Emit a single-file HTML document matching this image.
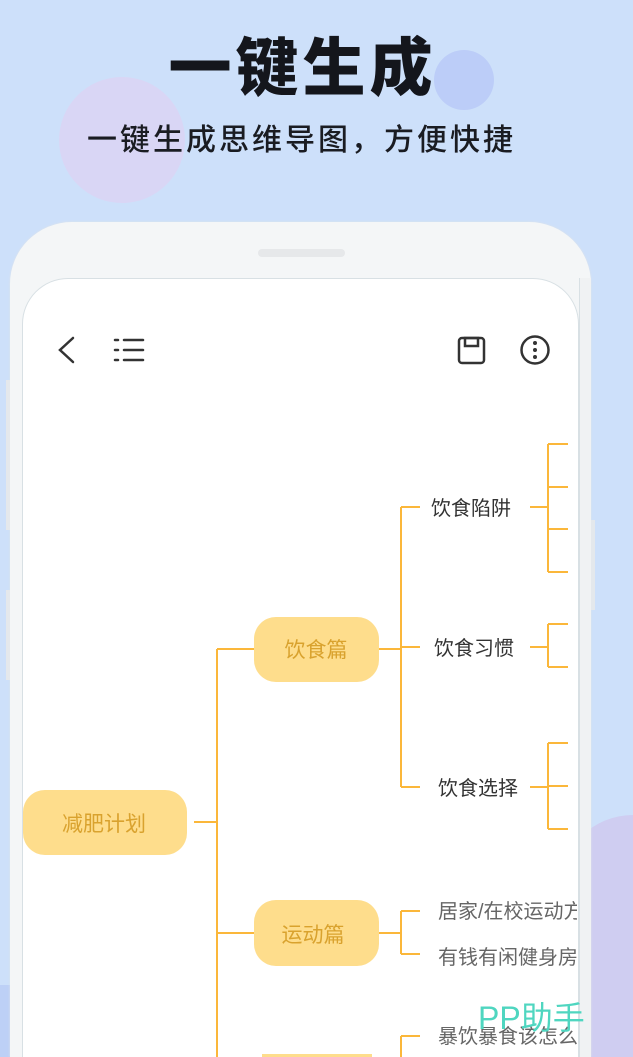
<!DOCTYPE html>
<html><head><meta charset="utf-8"><style>
html,body{margin:0;padding:0;width:633px;height:1057px;overflow:hidden}
body{background:#cde0fa;position:relative;font-family:"Liberation Sans","Noto Sans CJK SC",sans-serif}
.a{position:absolute}
</style></head><body>
<div class="a" style="left:59px;top:77px;width:126px;height:126px;border-radius:50%;background:#d9d6f5"></div>
<div class="a" style="left:434px;top:50px;width:60px;height:60px;border-radius:50%;background:#bccdf8"></div>
<div class="a" style="left:560px;top:815px;width:73px;height:242px;border-radius:150px 0 0 0;background:#cfcdf1"></div>
<div class="a" style="left:0;top:985px;width:12px;height:72px;background:#bdd0f6"></div>
<div class="a" style="left:0;top:34px;width:605px;text-align:center;font-size:63px;font-weight:900;color:#14161c;letter-spacing:4px;line-height:70px">一键生成</div>
<div class="a" style="left:0;top:121px;width:603px;text-align:center;font-size:30px;font-weight:500;color:#1a1c22;letter-spacing:3px;line-height:40px">一键生成思维导图，方便快捷</div>
<div class="a" style="left:10px;top:222px;width:581px;height:835px;border-radius:62px 62px 0 0;background:#f4f6f7;box-shadow:0 0 2px #e0e4e8"></div>
<div class="a" style="left:258px;top:249px;width:87px;height:8px;border-radius:4px;background:#e6e8ea"></div>
<div class="a" style="left:22px;top:278px;width:557px;height:779px;border-radius:46px 46px 0 0;background:#fff;border:1px solid #d8e0e4;border-bottom:none;box-sizing:border-box"></div>
<svg class="a" style="left:0;top:0;overflow:hidden" width="633" height="1057">
<defs><clipPath id="c"><rect x="0" y="0" width="577" height="1057"/></clipPath></defs>
<g clip-path="url(#c)">
<g stroke="#333" stroke-width="2.5" fill="none" stroke-linecap="round">
<polyline points="73,338 60,350 73,362"/>
<line x1="115" y1="340" x2="118" y2="340"/><line x1="124" y1="340" x2="143" y2="340"/>
<line x1="115" y1="350" x2="118" y2="350"/><line x1="124" y1="350" x2="143" y2="350"/>
<line x1="115" y1="360" x2="118" y2="360"/><line x1="124" y1="360" x2="143" y2="360"/>
<rect x="459" y="338" width="25" height="25" rx="3"/>
<rect x="465" y="338" width="13" height="8"/>
<circle cx="535" cy="350" r="13.5"/>
</g>
<g fill="#333"><circle cx="535" cy="343" r="2"/><circle cx="535" cy="350" r="2"/><circle cx="535" cy="357" r="2"/></g>
<g stroke="#fbb73a" stroke-width="2" fill="none">
<line x1="194" y1="822" x2="217" y2="822"/>
<line x1="217" y1="649" x2="217" y2="1057"/>
<line x1="217" y1="649" x2="254" y2="649"/>
<line x1="217" y1="933" x2="254" y2="933"/>
<line x1="379" y1="649" x2="401" y2="649"/>
<line x1="401" y1="507" x2="401" y2="787"/>
<line x1="401" y1="507" x2="420" y2="507"/>
<line x1="401" y1="647" x2="420" y2="647"/>
<line x1="401" y1="787" x2="420" y2="787"/>
<line x1="530" y1="507" x2="548" y2="507"/>
<line x1="548" y1="444" x2="548" y2="572"/>
<line x1="548" y1="444" x2="568" y2="444"/><line x1="548" y1="487" x2="568" y2="487"/><line x1="548" y1="529" x2="568" y2="529"/><line x1="548" y1="572" x2="568" y2="572"/>
<line x1="530" y1="647" x2="548" y2="647"/>
<line x1="548" y1="624" x2="548" y2="667"/>
<line x1="548" y1="624" x2="568" y2="624"/><line x1="548" y1="667" x2="568" y2="667"/>
<line x1="530" y1="787" x2="548" y2="787"/>
<line x1="548" y1="743" x2="548" y2="829"/>
<line x1="548" y1="743" x2="568" y2="743"/><line x1="548" y1="786" x2="568" y2="786"/><line x1="548" y1="829" x2="568" y2="829"/>
<line x1="379" y1="933" x2="401" y2="933"/>
<line x1="401" y1="911" x2="401" y2="954"/>
<line x1="401" y1="911" x2="420" y2="911"/><line x1="401" y1="954" x2="420" y2="954"/>
<line x1="401" y1="1036" x2="401" y2="1057"/><line x1="401" y1="1036" x2="420" y2="1036"/>
</g>
<g fill="#fedd8c">
<rect x="23" y="790" width="164" height="65" rx="22"/>
<rect x="254" y="617" width="125" height="65" rx="22"/>
<rect x="254" y="900" width="125" height="66" rx="22"/>
<rect x="262" y="1054" width="110" height="3"/>
</g>
<g font-size="21" fill="#d9a22e" text-anchor="middle" font-family="Liberation Sans,Noto Sans CJK SC,sans-serif">
<text x="104" y="831">减肥计划</text>
<text x="316" y="657">饮食篇</text>
<text x="313" y="942">运动篇</text>
</g>
<g font-size="20" fill="#333" font-family="Liberation Sans,Noto Sans CJK SC,sans-serif">
<text x="431" y="515">饮食陷阱</text>
<text x="434" y="655">饮食习惯</text>
<text x="438" y="795">饮食选择</text>
</g>
<g font-size="20" fill="#666" font-family="Liberation Sans,Noto Sans CJK SC,sans-serif">
<text x="438" y="918">居家/在校运动方</text>
<text x="438" y="964">有钱有闲健身房</text>
<text x="438" y="1043">暴饮暴食该怎么</text>
</g>
</g>
</svg>
<div class="a" style="left:579px;top:278px;width:12px;height:779px;background:#f0f2f3;border-left:1px solid #d8e0e4;box-sizing:border-box"></div>
<div class="a" style="left:591px;top:520px;width:4px;height:90px;background:#e4e8ec"></div>
<div class="a" style="left:6px;top:380px;width:4px;height:150px;background:#e4e8ec"></div>
<div class="a" style="left:6px;top:590px;width:4px;height:90px;background:#e4e8ec"></div>
<div class="a" style="left:478px;top:998px;font-size:32px;color:#4fd6c0;line-height:40px;font-family:'Liberation Sans','Noto Sans CJK SC',sans-serif">PP助手</div>
</body></html>
